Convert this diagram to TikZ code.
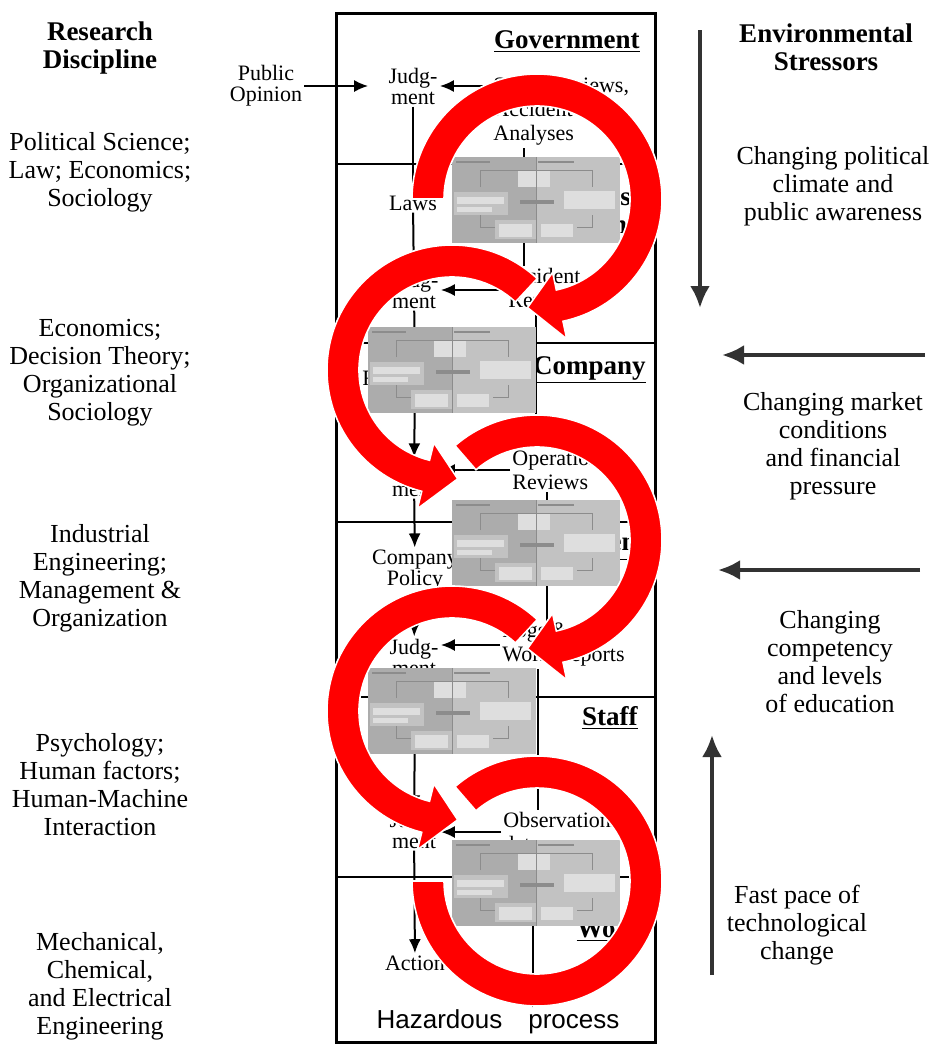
\documentclass[tikz,border=0pt]{standalone}
\usepackage{fontspec}
\setmainfont{Liberation Serif}
\newfontfamily\hazfont{Liberation Sans}
\usepackage{xcolor}
\usepackage{tikz}
\usetikzlibrary{positioning}
\usetikzlibrary{arrows.meta}
\definecolor{thumbgray}{RGB}{172,172,172}
\definecolor{thumblight}{RGB}{194,194,194}
\definecolor{thumbpale}{RGB}{222,222,222}
\definecolor{thumbdark}{RGB}{140,140,140}
\definecolor{stressgray}{RGB}{50,50,50}

\begin{document}
\begin{tikzpicture}[x=0.5pt,y=-0.5pt,
		>={Latex[length=7pt,width=6pt]}]
	\tikzstyle{every node}=[align=center,inner sep=1pt]
	\tikzstyle{discipline}=[font=\fontsize{13}{14}\selectfont]
	\tikzstyle{stressor}=[font=\fontsize{13}{14}\selectfont]
	\tikzstyle{heading}=[font=\fontsize{13.5}{14}\selectfont\bfseries]
	\tikzstyle{tier}=[font=\fontsize{13.5}{14}\selectfont\bfseries,anchor=east,align=right]
	\tikzstyle{inlabel}=[font=\fontsize{11}{10.5}\selectfont]
	\tikzstyle{report}=[font=\fontsize{11}{12}\selectfont,anchor=west,align=left]
	\tikzstyle{flow}=[line width=1pt]
	\tikzstyle{stress}=[line width=2pt,stressgray,-{Latex[length=11pt,width=10pt]}]
	\tikzstyle{redarc}=[fill=red,draw=white,line width=0.8pt]
	\useasboundingbox (0,0) rectangle (934,1046);

	\node[heading] (rd) at (100,48) {Research\\Discipline};
	\node[discipline] (d1) at (100,172) {Political Science;\\Law; Economics;\\Sociology};
	\node[discipline] (d2) at (100,373) {Economics;\\Decision Theory;\\Organizational\\Sociology};
	\node[discipline] (d3) at (100,578) {Industrial\\Engineering;\\Management \&\\Organization};
	\node[discipline] (d4) at (100,785) {Psychology;\\Human factors;\\Human-Machine\\Interaction};
	\node[discipline] (d5) at (100,986) {Mechanical,\\Chemical,\\and Electrical\\Engineering};

	\node[heading] (es) at (826,47) {Environmental\\Stressors};
	\node[stressor] (s1) at (833,186) {Changing political\\climate and\\public awareness};
	\node[stressor] (s2) at (833,446) {Changing market\\conditions\\and financial\\pressure};
	\node[stressor] (s3) at (830,662) {Changing\\competency\\and levels\\of education};
	\node[stressor] (s4) at (797,925) {Fast pace of\\technological\\change};

	\coordinate (a1s) at (700,30);
	\coordinate (a1e) at (700,308);
	\coordinate (a2s) at (925,355);
	\coordinate (a2e) at (722,355);
	\coordinate (a3s) at (920,570);
	\coordinate (a3e) at (718,570);
	\coordinate (a4s) at (712,975);
	\coordinate (a4e) at (712,735);
	\draw[stress] (a1s) -- (a1e);
	\draw[stress] (a2s) -- (a2e);
	\draw[stress] (a3s) -- (a3e);
	\draw[stress] (a4s) -- (a4e);

	\draw[line width=1.5pt] (336,13) rectangle (655,1042);
	\foreach \y in {164,343,522,697,877}
		\draw[line width=1pt] (336,\y) -- (655,\y);

	\node[tier] (gov) at (642,42) {\underline{Government}};
	\node[tier] (reg) at (640,210) {Regulators,\\Associations};
	\node[tier] (com) at (648,370) {\underline{Company}};
	\node[tier] (man) at (648,547) {\underline{Management}};
	\node[tier] (sta) at (640,718) {\underline{Staff}};
	\node[tier] (wrk) at (645,930) {\underline{Work}};

	\node[inlabel] (po) at (266,86) {Public\\Opinion};
	\node[inlabel] (j1) at (413,86) {Judg-\\ment};
	\node[report] (ana) at (491,111) {Safety reviews,\\Accident\\Analyses};
	\node[inlabel] (laws) at (413,203) {Laws};
	\node[inlabel] (j2) at (414,290) {Judg-\\ment};
	\node[report] (inc) at (506,290) {Incident\\Reports};
	\node[inlabel] (regs) at (415,380) {Regulations};
	\node[inlabel] (j3) at (414,478) {Judg-\\ment};
	\node[report] (ops) at (510,470) {Operations\\Reviews};
	\node[inlabel] (pol) at (415,570) {Company\\Policy};
	\node[inlabel] (j4) at (414,657) {Judg-\\ment};
	\node[report] (logs) at (500,645) {Logs \&\\Work Reports};
	\node[inlabel] (pla) at (415,712) {Plans};
	\node[inlabel] (j5) at (414,830) {Judg-\\ment};
	\node[report] (obs) at (501,832) {Observations,\\data};
	\node[inlabel] (act) at (415,963) {Action};
	\node[font=\hazfont\fontsize{13}{14}\selectfont] (haz) at (498,1022) {Hazardous\quad process};

	\draw[flow,->,shorten >=9pt] (po) -- (j1);
	\draw[flow,->] (ana.west |- j1) -- (j1);
	\draw[flow] (j1) -- (laws);
	\draw[flow,->] (laws) -- (j2);
	\draw[flow,->] (inc) -- (j2);
	\draw[flow] (j2) -- (regs);
	\draw[flow,->] (regs) -- (j3);
	\draw[flow,->] (ops.west) -- (ops.west -| j3.east);
	\draw[flow,->] (j3) -- (pol);
	\draw[flow,->] (pol) -- (j4);
	\draw[flow,->] (logs.west) -- (logs.west -| j4.east);
	\draw[flow] (j4) -- (pla);
	\draw[flow,->] (pla) -- (j5);
	\draw[flow,->] (obs.west) -- (obs.west -| j5.east);
	\draw[flow,->] (j5) -- (act);

	\coordinate (fb1) at (524,0);
	\coordinate (fb2) at (536,0);
	\coordinate (fb3) at (547,0);
	\coordinate (fb4) at (538,0);
	\coordinate (fb5) at (533,0);
	\draw[flow] (inc.north -| fb1) -- (ana.south -| fb1);
	\draw[flow] (ops.north -| fb2) -- (inc.south -| fb2);
	\draw[flow] (logs.north -| fb3) -- (ops.south -| fb3);
	\draw[flow] (obs.north -| fb4) -- (logs.south -| fb4);
	\draw[flow] (haz.north -| fb5) -- (obs.south -| fb5);

	\foreach \x/\y in {452/157,368/327,452/500,368/668,452/840}{
		\begin{scope}[shift={(\x,\y)}]
			\fill[thumbgray] (0,0) rectangle (168,86);
			\fill[thumblight] (85,0) rectangle (168,86);
			\draw[thumbdark,line width=0.6pt] (4,5) -- (38,5) (86,5) -- (122,5);
			\draw[thumbdark,line width=0.4pt] (28,30) -- (28,13) -- (140,13) -- (140,30);
			\draw[thumbdark,line width=0.4pt] (28,58) -- (28,70) -- (140,70) -- (140,58);
			\fill[thumbpale] (66,14) rectangle (98,30);
			\fill[thumblight] (2,35) rectangle (56,58);
			\fill[thumbpale] (5,40) rectangle (52,47);
			\fill[thumbpale] (5,50) rectangle (40,55);
			\fill[thumbpale] (112,34) rectangle (163,52);
			\fill[thumbdark] (68,43) rectangle (102,47);
			\fill[thumblight] (43,63) rectangle (125,82);
			\fill[thumbpale] (47,67) rectangle (80,80);
			\fill[thumbpale] (89,67) rectangle (121,80);
			\draw[thumbdark,line width=0.4pt] (84,0) -- (84,86);
		\end{scope}
	}

	\foreach \cx/\cy/\sa/\ea/\ta/\hx in {537/199/-180/78/95/18,452/370/-47/-256/-273/18,
			537/540/-131/78/95/18,452/711/-47/-256/-273/18,537/881/-131/180/180/0}{
		\begin{scope}[shift={(\cx,\cy)}]
			\filldraw[redarc] ({\sa}:125) arc[start angle=\sa,end angle=\ea,radius=125]
				-- ({\ea}:{125+\hx}) -- ({\ta}:109) -- ({\ea}:{93-\hx}) -- ({\ea}:93)
				arc[start angle=\ea,end angle=\sa,radius=93] -- cycle;
		\end{scope}
	}
\end{tikzpicture}
\end{document}
